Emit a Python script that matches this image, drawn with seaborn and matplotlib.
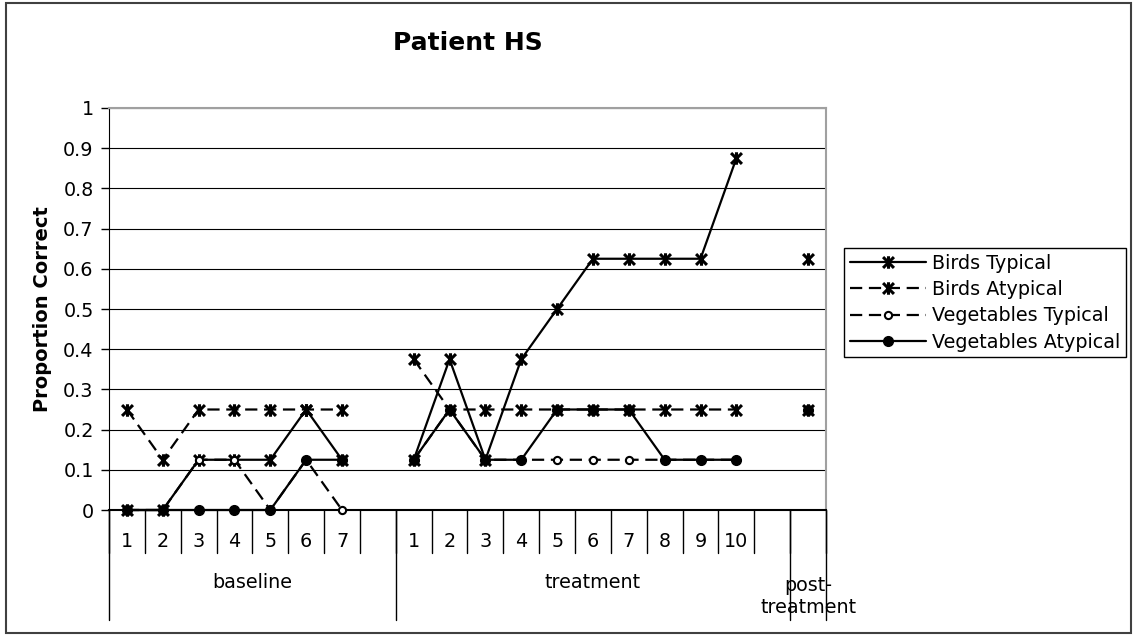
import numpy as np
import pandas as pd
import seaborn as sns
import matplotlib.pyplot as plt
from matplotlib.path import Path
from matplotlib.lines import Line2D
from matplotlib.patches import Rectangle
from matplotlib.transforms import blended_transform_factory

# categories along the x axis (blank cells separate the phases)
tick_labels = ['1', '2', '3', '4', '5', '6', '7', '',
               '1', '2', '3', '4', '5', '6', '7', '8', '9', '10', '',
               '']
groups = ['baseline', 'treatment', 'post-\ntreatment']
group_sizes = [8, 11, 1]

nan = np.nan
birds_typical = [0, 0, 0.125, 0.125, 0.125, 0.25, 0.125, nan,
                 0.125, 0.375, 0.125, 0.375, 0.5, 0.625, 0.625, 0.625, 0.625, 0.875, nan,
                 0.625]
birds_atypical = [0.25, 0.125, 0.25, 0.25, 0.25, 0.25, 0.25, nan,
                  0.375, 0.25, 0.25, 0.25, 0.25, 0.25, 0.25, 0.25, 0.25, 0.25, nan,
                  0.25]
veg_typical = [0, 0, 0.125, 0.125, 0, 0.125, 0, nan,
               0.125, 0.25, 0.125, 0.125, 0.125, 0.125, 0.125, 0.125, 0.125, 0.125, nan,
               nan]
veg_atypical = [0, 0, 0, 0, 0, 0.125, 0.125, nan,
                0.125, 0.25, 0.125, 0.125, 0.25, 0.25, 0.25, 0.125, 0.125, 0.125, nan,
                0.25]

series_names = ['Birds Typical', 'Birds Atypical', 'Vegetables Typical', 'Vegetables Atypical']
series_values = [birds_typical, birds_atypical, veg_typical, veg_atypical]

# long table: one row per point, segment = phase so lines break between phases
seg = np.repeat(np.arange(len(groups)), group_sizes)
rows = []
for name, vals in zip(series_names, series_values):
    for i, v in enumerate(vals):
        rows.append({'pos': i, 'value': v, 'series': name, 'segment': seg[i]})
df = pd.DataFrame(rows).dropna()

sns.set_style('white')
plt.rcParams['font.family'] = ['DejaVu Sans']
plt.rcParams['text.color'] = 'black'
plt.rcParams['axes.labelcolor'] = 'black'
plt.rcParams['ytick.color'] = 'black'
plt.rcParams['xtick.color'] = 'black'

fig = plt.figure(figsize=(11.34, 6.36), dpi=100)
ax = fig.add_axes([0.0961, 0.1981, 0.6323, 0.6321])

# Excel style x-star marker
xstar = Path([(-1, -1), (1, 1), (-1, 1), (1, -1), (0, -1.15), (0, 1.15)],
             [Path.MOVETO, Path.LINETO, Path.MOVETO, Path.LINETO, Path.MOVETO, Path.LINETO])
dash = (0, (5.5, 3))
styles = {
    'Birds Typical': dict(linestyle='-', marker=xstar, markersize=9, markerfacecolor='none',
                          markeredgecolor='k', markeredgewidth=2.2),
    'Birds Atypical': dict(linestyle=dash, marker=xstar, markersize=9, markerfacecolor='none',
                           markeredgecolor='k', markeredgewidth=2.2),
    'Vegetables Typical': dict(linestyle=dash, marker='o', markersize=5.2, markerfacecolor='white',
                               markeredgecolor='k', markeredgewidth=1.5),
    'Vegetables Atypical': dict(linestyle='-', marker='o', markersize=7, markerfacecolor='k',
                                markeredgecolor='k', markeredgewidth=1),
}

handles = []
for name in series_names:
    sub = df[df['series'] == name]
    sns.lineplot(data=sub, x='pos', y='value', units='segment', estimator=None,
                 color='k', linewidth=1.6, ax=ax, legend=False, clip_on=False, zorder=3,
                 **styles[name])
    handles.append(Line2D([], [], color='k', linewidth=1.6, **styles[name]))

n = len(tick_labels)
ax.set_xlim(-0.5, n - 0.5)
ax.set_ylim(0, 1)
ax.set_yticks(np.arange(0, 1.01, 0.1))
ax.set_yticklabels(['0'] + ['%.1f' % t for t in np.arange(0.1, 0.95, 0.1)] + ['1'])
ax.set_xticks([])
ax.set_xlabel('')
ax.set_ylabel('Proportion Correct', fontsize=14, fontweight='bold', labelpad=8)
ax.tick_params(axis='y', direction='out', length=6, width=1, color='k', labelsize=13.8, pad=5, left=True)
ax.yaxis.grid(True, color='k', linewidth=0.8)
ax.set_axisbelow(True)
for side in ['top', 'right']:
    ax.spines[side].set_color('#a0a0a0')
    ax.spines[side].set_linewidth(1.5)
ax.spines['left'].set_color('k')
ax.spines['bottom'].set_color('k')
ax.spines['bottom'].set_linewidth(1.5)

# category axis with two levels of labels
tr = blended_transform_factory(ax.transData, ax.transAxes)
for i in range(n + 1):
    ax.plot([i - 0.5, i - 0.5], [0, -0.107], color='k', lw=1, transform=tr, clip_on=False)
for i, lab in enumerate(tick_labels):
    ax.text(i, -0.092, lab, transform=tr, ha='center', va='baseline', fontsize=13.8)
start = 0
bounds = [-0.5]
for g, size in zip(groups, group_sizes):
    center = start + (size - 1) / 2
    ypos = -0.194 if '\n' not in g else -0.256
    ax.text(center, ypos, g, transform=tr, ha='center', va='baseline', fontsize=13.8,
            linespacing=1.2)
    start += size
    bounds.append(start - 0.5)
for b in bounds:
    ax.plot([b, b], [0, -0.274], color='k', lw=1, transform=tr, clip_on=False)

ax.set_title('Patient HS', fontsize=18, fontweight='bold', pad=42, color='black')

leg = fig.legend(handles, series_names, loc='upper left', bbox_to_anchor=(0.7443, 0.6101),
                 borderaxespad=0, fontsize=13.8, frameon=True, fancybox=False,
                 edgecolor='k', framealpha=1, handlelength=4.0, handletextpad=0.3,
                 labelspacing=0.38, borderpad=0.3)
leg.get_frame().set_linewidth(1)

fig.patches.append(Rectangle((0.0053, 0.0047), 0.9921, 0.9906, transform=fig.transFigure,
                             fill=False, edgecolor='#404040', linewidth=1.5))

fig.savefig('out.png', dpi=100)
